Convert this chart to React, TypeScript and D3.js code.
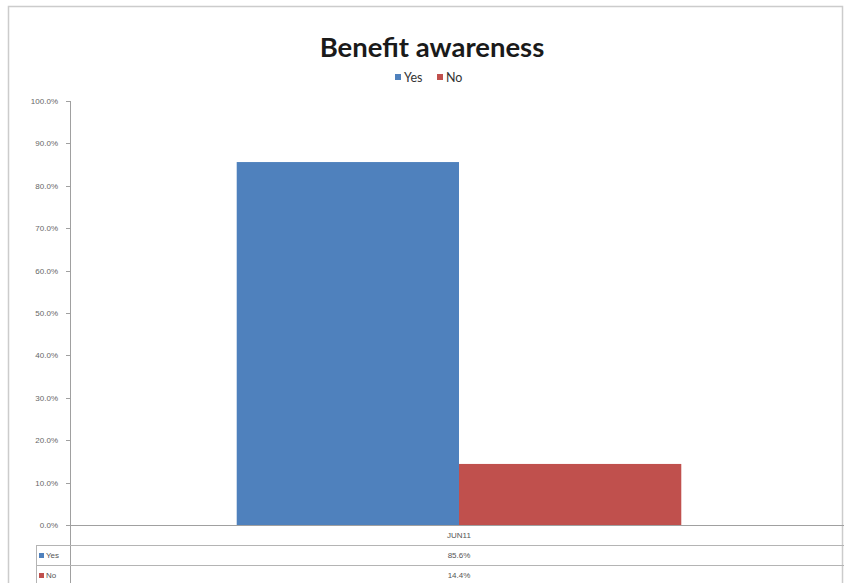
import React from "react";
import * as d3 from "d3";

const categories = ["JUN11"];
const seriesNames = ["Yes", "No"];
const yesValues = [85.6];
const noValues = [14.4];
const yTicks = [0, 10, 20, 30, 40, 50, 60, 70, 80, 90, 100];
const colors = ["#4F81BD", "#C0504D"];

const W = 844;
const H = 583;
const plotLeft = 70;
const plotRight = 848;
const plotTop = 101;
const plotBottom = 525;
const rowH = 20;

export default function App() {
  const y = d3.scaleLinear().domain([0, 100]).range([plotBottom, plotTop]);
  const x0 = d3.scaleBand<string>().domain(categories).range([plotLeft, plotRight]).paddingInner(0).paddingOuter(0);
  const bw = x0.bandwidth();
  const groupW = bw / (1 + 1.5 / 2); // gap width 150%
  const x1 = d3
    .scaleBand<string>()
    .domain(seriesNames)
    .range([(bw - groupW) / 2, (bw + groupW) / 2]);
  const series = [yesValues, noValues];
  const fmt = (v: number) => v.toFixed(1) + "%";
  const font = "Carlito, 'Open Sans', 'Liberation Sans', sans-serif";
  const axisColor = "#a0a0a0";
  const tableColor = "#b4b4b4";
  const tableLeft = 36;
  const smallFont = "'Liberation Sans', sans-serif";

  return (
    <svg
      width={W}
      height={H}
      style={{ position: "absolute", left: 0, top: 0, background: "#fff" }}
      fontFamily={font}
    >
      <rect x={8.5} y={6.5} width={834} height={590} fill="#fff" stroke="#cccccc" strokeWidth={1.5} />
      <text x={432} y={57} textAnchor="middle" fontFamily="Lato, 'Open Sans', sans-serif" fontWeight="bold" fontSize={27.5} fill="#1a1a1a">
        Benefit awareness
      </text>
      {/* legend */}
      {seriesNames.map((s, i) => {
        const lx = [395, 437][i];
        return (
          <g key={s}>
            <rect x={lx} y={74} width={6} height={6} fill={colors[i]} />
            <text x={lx + 9} y={82} fontSize={12.5} fill="#333" fontFamily="Lato, sans-serif">
              {s}
            </text>
          </g>
        );
      })}
      {/* bars */}
      {categories.map((c, ci) => (
        <g key={c} transform={`translate(${x0(c)},0)`}>
          {seriesNames.map((s, si) => (
            <rect
              key={s}
              x={x1(s)}
              y={y(series[si][ci])}
              width={x1.bandwidth()}
              height={plotBottom - y(series[si][ci])}
              fill={colors[si]}
            />
          ))}
        </g>
      ))}
      {/* y axis */}
      <line x1={plotLeft + 0.5} x2={plotLeft + 0.5} y1={plotTop} y2={H} stroke={axisColor} />
      {yTicks.map((t) => (
        <g key={t}>
          <line x1={plotLeft - 4} x2={plotLeft} y1={Math.round(y(t)) + 0.5} y2={Math.round(y(t)) + 0.5} stroke={axisColor} />
          <text x={58} y={y(t) + 3} textAnchor="end" fontSize={8} fill="#666" fontFamily={smallFont}>
            {fmt(t)}
          </text>
        </g>
      ))}
      {/* data table */}
      <line x1={plotLeft} x2={W} y1={plotBottom + 0.5} y2={plotBottom + 0.5} stroke={axisColor} />
      <line x1={tableLeft} x2={W} y1={plotBottom + rowH + 0.5} y2={plotBottom + rowH + 0.5} stroke={tableColor} />
      <line x1={tableLeft} x2={W} y1={plotBottom + rowH * 2 + 0.5} y2={plotBottom + rowH * 2 + 0.5} stroke={tableColor} />
      <line x1={tableLeft + 0.5} x2={tableLeft + 0.5} y1={plotBottom + rowH} y2={H} stroke={tableColor} />
      {categories.map((c) => (
        <text key={c} x={(x0(c) || 0) + bw / 2} y={plotBottom + 13} textAnchor="middle" fontSize={8} fill="#555" fontFamily={smallFont}>
          {c}
        </text>
      ))}
      {seriesNames.map((s, si) => (
        <g key={s}>
          <rect x={tableLeft + 3} y={plotBottom + rowH * (si + 1) + 8} width={5} height={5} fill={colors[si]} />
          <text x={tableLeft + 10} y={plotBottom + rowH * (si + 1) + 13} fontSize={8} fill="#555" fontFamily={smallFont}>
            {s}
          </text>
          {categories.map((c, ci) => (
            <text
              key={c}
              x={(x0(c) || 0) + bw / 2}
              y={plotBottom + rowH * (si + 1) + 13}
              textAnchor="middle"
              fontSize={8}
              fill="#555"
              fontFamily={smallFont}
            >
              {fmt(series[si][ci])}
            </text>
          ))}
        </g>
      ))}
    </svg>
  );
}
